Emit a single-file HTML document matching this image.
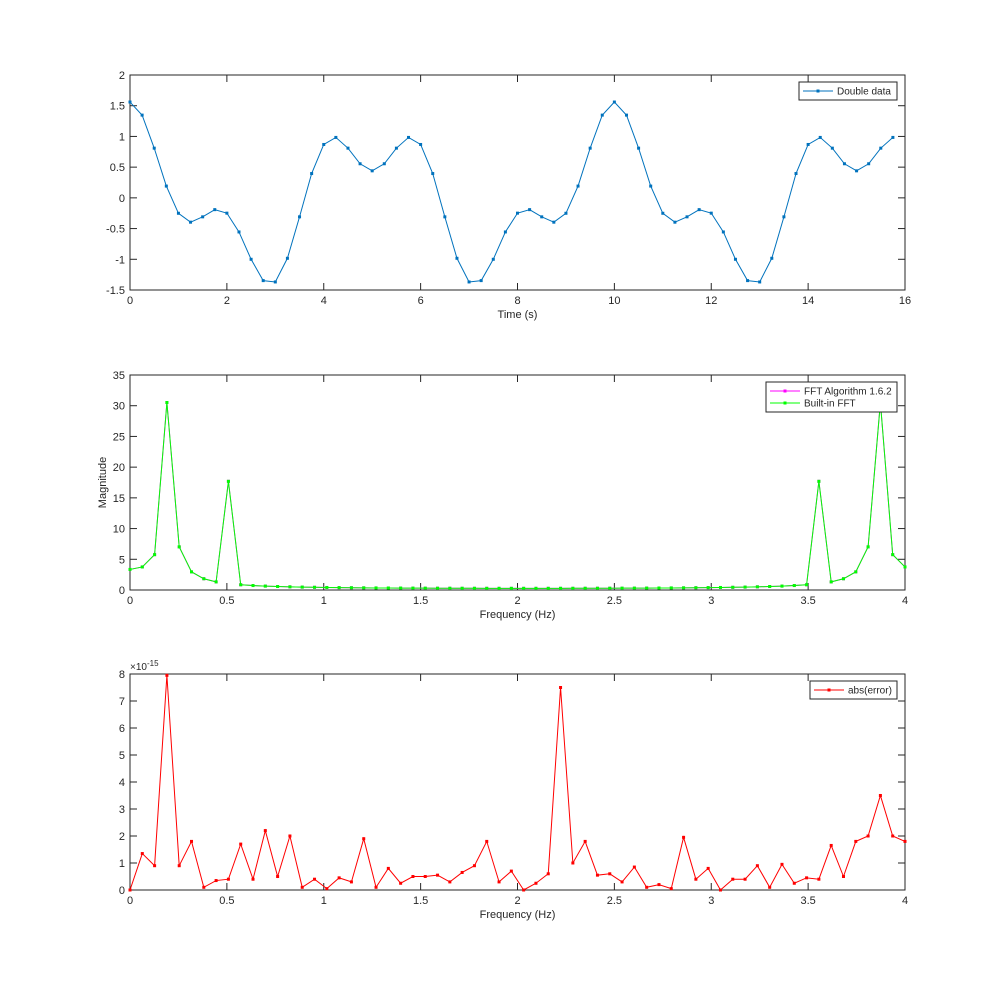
<!DOCTYPE html>
<html><head><meta charset="utf-8"><style>
html,body{margin:0;padding:0;background:#fff;}
svg text{font-family:"Liberation Sans",sans-serif;font-size:11px;fill:#262626;}
</style></head><body>
<svg id="s" width="1000" height="1000" xmlns="http://www.w3.org/2000/svg"></svg>
<script>
var s=document.getElementById('s'),h='';
function ax(x0,x1,y0,y1,xmin,xmax,ymin,ymax,xt,yt,xlab,ylab){
 var X=function(v){return x0+(v-xmin)/(xmax-xmin)*(x1-x0)},Y=function(v){return y1-(v-ymin)/(ymax-ymin)*(y1-y0)};
 h+='<rect x="'+x0+'" y="'+y0+'" width="'+(x1-x0)+'" height="'+(y1-y0)+'" fill="#fff" stroke="#262626" stroke-width="1"/>';
 xt.forEach(function(v){var x=X(v);h+='<line x1="'+x+'" x2="'+x+'" y1="'+y1+'" y2="'+(y1-7)+'" stroke="#262626"/><line x1="'+x+'" x2="'+x+'" y1="'+y0+'" y2="'+(y0+7)+'" stroke="#262626"/><text x="'+x+'" y="'+(y1+14)+'" text-anchor="middle">'+v+'</text>';});
 yt.forEach(function(v){var y=Y(v);h+='<line x1="'+x0+'" x2="'+(x0+7)+'" y1="'+y+'" y2="'+y+'" stroke="#262626"/><line x1="'+x1+'" x2="'+(x1-7)+'" y1="'+y+'" y2="'+y+'" stroke="#262626"/><text x="'+(x0-5)+'" y="'+(y+4)+'" text-anchor="end">'+v+'</text>';});
 h+='<text x="'+((x0+x1)/2)+'" y="'+(y1+28)+'" text-anchor="middle">'+xlab+'</text>';
 if(ylab)h+='<text transform="translate('+(x0-24)+','+((y0+y1)/2)+') rotate(-90)" text-anchor="middle">'+ylab+'</text>';
 return [X,Y];
}
function line(xs,ys,T,col){var p=xs.map(function(x,i){return T[0](x).toFixed(2)+','+T[1](ys[i]).toFixed(2)}).join(' ');
 h+='<polyline points="'+p+'" fill="none" stroke="'+col+'" stroke-width="1"/>';
 xs.forEach(function(x,i){h+='<rect x="'+(T[0](x)-1.5)+'" y="'+(T[1](ys[i])-1.5)+'" width="3" height="3" fill="'+col+'"/>';});}
function leg(x,y,w,items){h+='<rect x="'+x+'" y="'+y+'" width="'+w+'" height="'+(items.length*12+6)+'" fill="#fff" stroke="#262626"/>';
 items.forEach(function(it,i){var yy=y+9+i*12;h+='<line x1="'+(x+4)+'" x2="'+(x+34)+'" y1="'+yy+'" y2="'+yy+'" stroke="'+it[1]+'"/><rect x="'+(x+17.5)+'" y="'+(yy-1.5)+'" width="3" height="3" fill="'+it[1]+'"/><text x="'+(x+38)+'" y="'+(yy+3.5)+'" style="font-size:10px">'+it[0]+'</text>';});}
var N=64,t=[],d=[];for(var i=0;i<N;i++){t.push(i*0.25);d.push(Math.cos(0.4*Math.PI*i*0.25)+0.56*Math.cos(Math.PI*i*0.25));}
var T1=ax(130,905,75,290,0,16,-1.5,2,[0,2,4,6,8,10,12,14,16],[-1.5,-1,-0.5,0,0.5,1,1.5,2],'Time (s)');
line(t,d,T1,'#0072BD');leg(799,82,98,[['Double data','#0072BD']]);
var f=[],m=[];for(var k=0;k<N;k++){var re=0,im=0;for(var n=0;n<N;n++){re+=d[n]*Math.cos(2*Math.PI*k*n/N);im-=d[n]*Math.sin(2*Math.PI*k*n/N);}f.push(4*k/63);m.push(Math.sqrt(re*re+im*im));}
var T2=ax(130,905,375,590,0,4,0,35,[0,0.5,1,1.5,2,2.5,3,3.5,4],[0,5,10,15,20,25,30,35],'Frequency (Hz)','Magnitude');
line(f,m,T2,'#ff00ff');line(f,m,T2,'#00ff00');leg(766,382,131,[['FFT Algorithm 1.6.2','#ff00ff'],['Built-in FFT','#00ff00']]);
var e=[0,1.35,0.9,7.95,0.9,1.8,0.1,0.35,0.4,1.7,0.4,2.2,0.5,2.0,0.1,0.4,0.05,0.45,0.3,1.9,0.1,0.8,0.25,0.5,0.5,0.55,0.3,0.65,0.9,1.8,0.3,0.7,0,0.25,0.6,7.5,1.0,1.8,0.55,0.6,0.3,0.85,0.1,0.2,0.05,1.95,0.4,0.8,0,0.4,0.4,0.9,0.1,0.95,0.25,0.45,0.4,1.65,0.5,1.8,2.0,3.5,2.0,1.8];
var T3=ax(130,905,674,890,0,4,0,8,[0,0.5,1,1.5,2,2.5,3,3.5,4],[0,1,2,3,4,5,6,7,8],'Frequency (Hz)');
h+='<text x="130" y="670" style="font-size:10px">×10<tspan dy="-4" style="font-size:8px">-15</tspan></text>';
line(f,e,T3,'#ff0000');leg(810,681,87,[['abs(error)','#ff0000']]);
s.innerHTML=h;
</script>
</body></html>
